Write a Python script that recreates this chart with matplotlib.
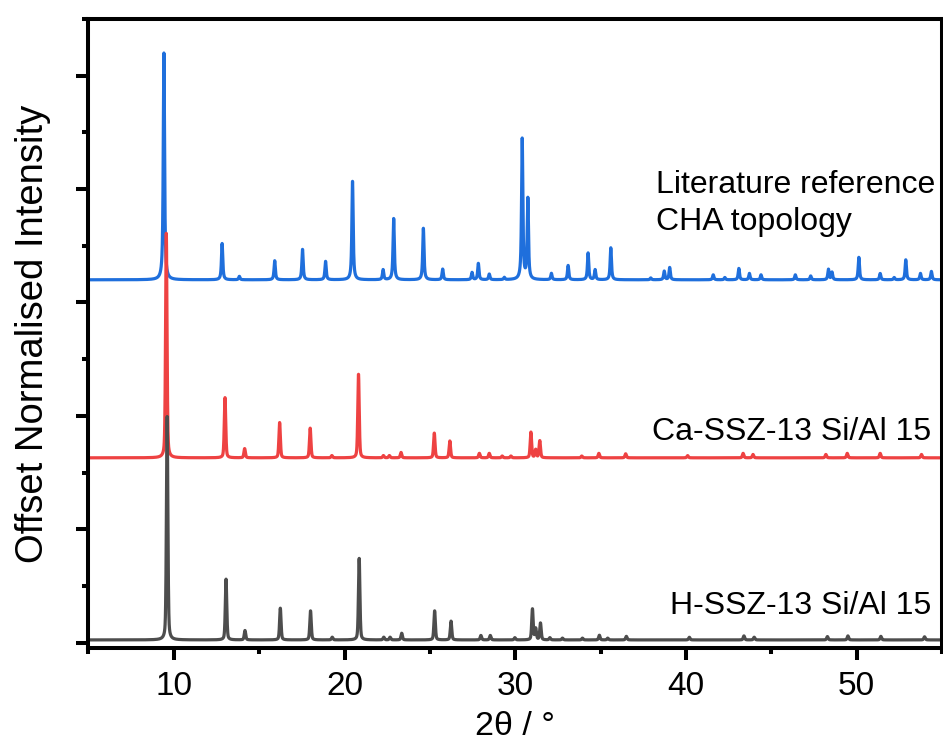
import numpy as np
import matplotlib
matplotlib.use("Agg")
import matplotlib.pyplot as plt
from matplotlib.ticker import MultipleLocator, NullFormatter

plt.rcParams['font.family'] = ['Liberation Sans', 'DejaVu Sans']

# ---- data: peak positions (2theta, deg) and relative intensities ----
cha_pos = [9.42, 12.83, 13.84, 15.91, 17.54, 18.89, 20.47, 22.26, 22.88, 24.62,
           25.75, 27.47, 27.84, 28.48, 29.36, 30.41, 30.74, 32.12, 33.10, 34.27,
           34.68, 35.60, 37.94, 38.73, 39.05, 41.60, 42.28, 43.10, 43.72, 44.40,
           46.41, 47.31, 48.35, 48.56, 50.13, 51.38, 52.20, 52.88, 53.74, 54.38]
cha_int = [1.0, 0.16, 0.015, 0.084, 0.134, 0.081, 0.434, 0.044, 0.27, 0.227,
           0.047, 0.032, 0.072, 0.025, 0.01, 0.62, 0.355, 0.028, 0.063, 0.118,
           0.044, 0.141, 0.008, 0.038, 0.054, 0.022, 0.01, 0.05, 0.028, 0.022,
           0.022, 0.017, 0.046, 0.033, 0.099, 0.028, 0.01, 0.088, 0.028, 0.037]

ca_pos = [9.56, 13.00, 14.15, 16.20, 17.99, 19.26, 20.82, 22.28, 22.63, 23.31,
          25.26, 26.17, 27.90, 28.48, 29.24, 29.75, 30.92, 31.20, 31.44, 33.90,
          34.90, 36.47, 40.10, 43.35, 43.93, 48.20, 49.45, 51.38, 53.80]
ca_int = [1.0, 0.268, 0.041, 0.157, 0.132, 0.01, 0.372, 0.01, 0.01, 0.024,
          0.11, 0.075, 0.02, 0.02, 0.008, 0.008, 0.114, 0.036, 0.076, 0.008,
          0.02, 0.018, 0.01, 0.02, 0.015, 0.015, 0.02, 0.02, 0.015]

h_pos = [9.61, 13.06, 14.17, 16.24, 18.01, 19.28, 20.86, 22.30, 22.67, 23.35,
         25.28, 26.24, 27.99, 28.54, 29.98, 31.01, 31.20, 31.48, 32.03, 32.77,
         33.94, 34.93, 35.42, 36.51, 40.20, 43.40, 44.00, 48.29, 49.49, 51.42, 53.98]
h_int = [1.0, 0.272, 0.042, 0.142, 0.13, 0.012, 0.365, 0.012, 0.012, 0.03,
         0.13, 0.084, 0.02, 0.02, 0.01, 0.138, 0.05, 0.075, 0.01, 0.008,
         0.008, 0.021, 0.008, 0.016, 0.012, 0.018, 0.012, 0.015, 0.018, 0.016, 0.014]

series_names = ["Literature reference", "Ca-SSZ-13 Si/Al 15", "H-SSZ-13 Si/Al 15"]
series_offsets = [3.2, 1.6, 0.0]
series_baselines = [0.0, 0.03, 0.024]
series_scale = [2.0, 1.98, 1.97]
series_colors = ["#1F6FDC", "#EE4242", "#4D4D4D"]

x = np.linspace(5, 55, 10001)


def pattern(pos, inten, fwhm, eta):
    y = np.zeros_like(x)
    for p, h in zip(pos, inten):
        d = (x - p) / (fwhm / 2.0)
        y += h * (eta / (1 + d ** 2) + (1 - eta) * np.exp(-np.log(2) * d ** 2))
    return y


profiles = [pattern(cha_pos, cha_int, 0.09, 0.8),
            pattern(ca_pos, ca_int, 0.10, 0.4),
            pattern(h_pos, h_int, 0.10, 0.4)]

fig = plt.figure(figsize=(9.43, 7.40), dpi=100)
ax = fig.add_axes([0.0938, 0.1239, 0.9989 - 0.0938, 0.9743 - 0.1239])

for prof, off, base, sc, col in zip(profiles, series_offsets, series_baselines,
                                     series_scale, series_colors):
    ax.plot(x, off + base + sc * prof, color=col, lw=2.3, solid_joinstyle='round')

ax.set_xlim(5, 55)
ax.set_ylim(-0.05, 5.5)
ax.xaxis.set_major_locator(MultipleLocator(10))
ax.xaxis.set_minor_locator(MultipleLocator(5))
ax.yaxis.set_major_locator(MultipleLocator(1))
ax.yaxis.set_minor_locator(MultipleLocator(0.5))
ax.yaxis.set_major_formatter(NullFormatter())

for s in ax.spines.values():
    s.set_linewidth(2.9)
ax.tick_params(which='major', direction='out', length=8.6, width=2.9,
               labelsize=24, pad=8, top=False, right=False)
ax.tick_params(which='minor', direction='out', length=4.3, width=2.9,
               top=False, right=False)

ax.set_xlabel("2θ / °", fontsize=24.5, labelpad=6)
ax.set_ylabel("Offset Normalised Intensity", fontsize=27.5)
ax.yaxis.set_label_coords(-0.044, 0.5)

ax.text(38.25, 3.966, "Literature reference", fontsize=23, ha='left', va='baseline')
ax.text(38.25, 3.639, "CHA topology", fontsize=23, ha='left', va='baseline')
ax.text(54.37, 1.787, series_names[1], fontsize=23, ha='right', va='baseline')
ax.text(54.37, 0.25, series_names[2], fontsize=23, ha='right', va='baseline')

fig.savefig("out.png", dpi=100)
